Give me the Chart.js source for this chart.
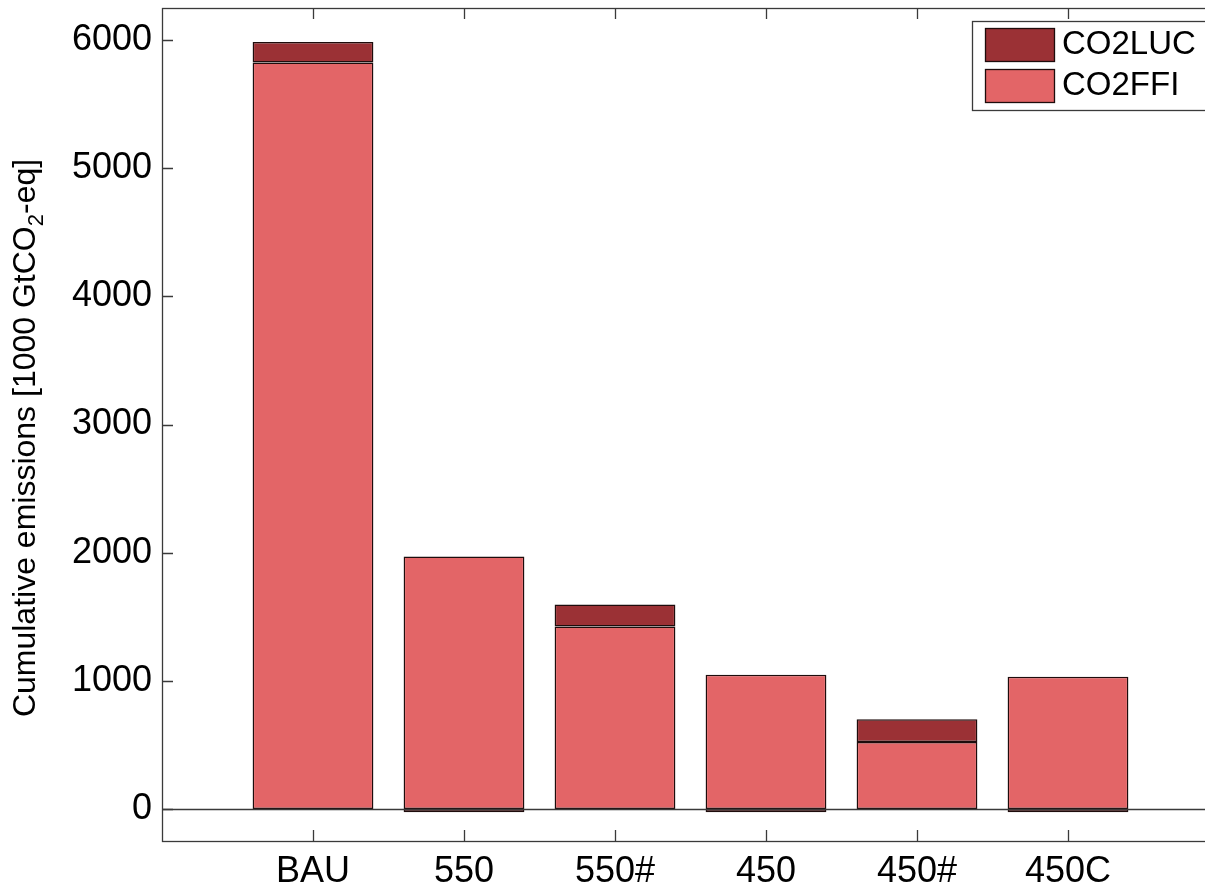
<!DOCTYPE html>
<html>
<head>
<meta charset="utf-8">
<title>Cumulative emissions</title>
<script src="https://cdn.jsdelivr.net/npm/chart.js@4/dist/chart.umd.min.js"></script>
<style>
    html, body { margin: 0; padding: 0; background: #fff; overflow: hidden; }
    #chart-wrap { width: 1205px; height: 888px; overflow: hidden; }
    canvas { display: block; }
</style>
</head>
<body>
<div id="chart-wrap">
    <canvas id="emissionsChart" width="1222" height="888"></canvas>
</div>
<script>
// Empty labels at both ends give the axis its 0..7 range, like the original figure
var categories = ['', 'BAU', '550', '550#', '450', '450#', '450C', ''];
var co2ffi = [null, 5825, 1970, 1424, 1047, 523, 1031, null];
var co2luc = [null, 160, -25, 172, -25, 178, -25, null];
var yTicks = [0, 1000, 2000, 3000, 4000, 5000, 6000];

var FONT = '"Liberation Sans", Arial, sans-serif';
var AXIS_COLOR = '#3a3a3a';
var FFI_COLOR = '#e36567';
var LUC_COLOR = '#9b3135';
var EDGE_COLOR = '#1e0c0c';

// Frame, inward ticks, baseline, legend and the y title (with a subscript)
var matlabFrame = {
    id: 'matlabFrame',
    afterDatasetsDraw: function (chart) {
        var ctx = chart.ctx;
        var area = chart.chartArea;
        var x = chart.scales.x;
        var y = chart.scales.y;

        ctx.save();
        ctx.strokeStyle = AXIS_COLOR;
        ctx.lineWidth = 1.3;

        // zero baseline
        var y0 = Math.round(y.getPixelForValue(0)) + 0.5;
        ctx.beginPath();
        ctx.moveTo(area.left, y0);
        ctx.lineTo(area.right, y0);
        ctx.stroke();

        // box
        ctx.strokeRect(Math.round(area.left) + 0.5, Math.round(area.top) + 0.5,
            Math.round(area.right - area.left), Math.round(area.bottom - area.top));

        // y ticks pointing inward
        yTicks.forEach(function (v) {
            var py = Math.round(y.getPixelForValue(v)) + 0.5;
            ctx.beginPath();
            ctx.moveTo(area.left, py);
            ctx.lineTo(area.left + 11, py);
            ctx.moveTo(area.right, py);
            ctx.lineTo(area.right - 11, py);
            ctx.stroke();
        });

        // x ticks, top and bottom
        categories.forEach(function (c, i) {
            if (!c) return;
            var px = Math.round(x.getPixelForValue(i)) + 0.5;
            ctx.beginPath();
            ctx.moveTo(px, area.top);
            ctx.lineTo(px, area.top + 11);
            ctx.moveTo(px, area.bottom);
            ctx.lineTo(px, area.bottom - 11);
            ctx.stroke();
        });

        // legend (stack order reversed, like MATLAB)
        var lx = 972, ly = 21;
        ctx.fillStyle = '#fff';
        ctx.fillRect(lx, ly, 245, 89);
        ctx.strokeRect(lx + 0.5, ly + 0.5, 245, 89);
        var sets = chart.data.datasets.slice().reverse();
        ctx.font = '33px ' + FONT;
        ctx.textBaseline = 'middle';
        ctx.textAlign = 'left';
        sets.forEach(function (ds, i) {
            var sy = 28 + i * 41;
            ctx.fillStyle = ds.backgroundColor;
            ctx.fillRect(985, sy, 69, 33);
            ctx.strokeStyle = EDGE_COLOR;
            ctx.strokeRect(985.5, sy + 0.5, 69, 33);
            ctx.fillStyle = '#000';
            ctx.fillText(ds.label, 1062, sy + 17);
        });

        // y axis title
        var parts = [
            { t: 'Cumulative emissions [1000 GtCO', size: 32, dy: 0 },
            { t: '2', size: 22, dy: 8 },
            { t: '-eq]', size: 32, dy: 0 }
        ];
        var total = 0;
        parts.forEach(function (p) {
            ctx.font = p.size + 'px ' + FONT;
            p.w = ctx.measureText(p.t).width;
            total += p.w;
        });
        ctx.translate(35, 438);
        ctx.rotate(-Math.PI / 2);
        ctx.fillStyle = '#000';
        ctx.textBaseline = 'alphabetic';
        var cx = -total / 2;
        parts.forEach(function (p) {
            ctx.font = p.size + 'px ' + FONT;
            ctx.fillText(p.t, cx, p.dy);
            cx += p.w;
        });
        ctx.restore();
    }
};

// keep the plot box where the figure has it, no extra room for edge labels
function noEdgePadding(scale) {
    scale.paddingTop = 0;
    scale.paddingBottom = 0;
    scale.paddingLeft = 0;
    scale.paddingRight = 0;
}

window.addEventListener('DOMContentLoaded', function () {
    var ctx = document.getElementById('emissionsChart').getContext('2d');

    new Chart(ctx, {
        type: 'bar',
        data: {
            labels: categories,
            datasets: [
                {
                    label: 'CO2FFI',
                    data: co2ffi,
                    backgroundColor: FFI_COLOR,
                    borderColor: EDGE_COLOR,
                    borderWidth: 1.5,
                    borderSkipped: false,
                    barPercentage: 0.8,
                    categoryPercentage: 1
                },
                {
                    label: 'CO2LUC',
                    data: co2luc,
                    backgroundColor: LUC_COLOR,
                    borderColor: EDGE_COLOR,
                    borderWidth: 1.5,
                    borderSkipped: false,
                    barPercentage: 0.8,
                    categoryPercentage: 1
                }
            ]
        },
        options: {
            responsive: false,
            animation: false,
            layout: { padding: { left: 0, top: 8, right: 3, bottom: 0 } },
            plugins: {
                legend: { display: false },
                tooltip: { enabled: false }
            },
            scales: {
                x: {
                    stacked: true,
                    offset: false,
                    grid: { display: false, drawTicks: false, offset: false },
                    border: { display: false },
                    ticks: {
                        autoSkip: false,
                        maxRotation: 0,
                        padding: 9,
                        color: '#000',
                        font: { family: FONT, size: 36 }
                    },
                    afterFit: function (scale) {
                        scale.height = 47;
                        noEdgePadding(scale);
                    }
                },
                y: {
                    stacked: true,
                    min: -250,
                    max: 6250,
                    grid: { display: false, drawTicks: false },
                    border: { display: false },
                    ticks: {
                        padding: 10,
                        color: '#000',
                        font: { family: FONT, size: 36 },
                        callback: function (v) { return String(v); }
                    },
                    afterBuildTicks: function (scale) {
                        scale.ticks = yTicks.map(function (v) { return { value: v }; });
                    },
                    afterFit: function (scale) {
                        scale.width = 162;
                        noEdgePadding(scale);
                    }
                }
            }
        },
        plugins: [matlabFrame]
    });
});
</script>
</body>
</html>
